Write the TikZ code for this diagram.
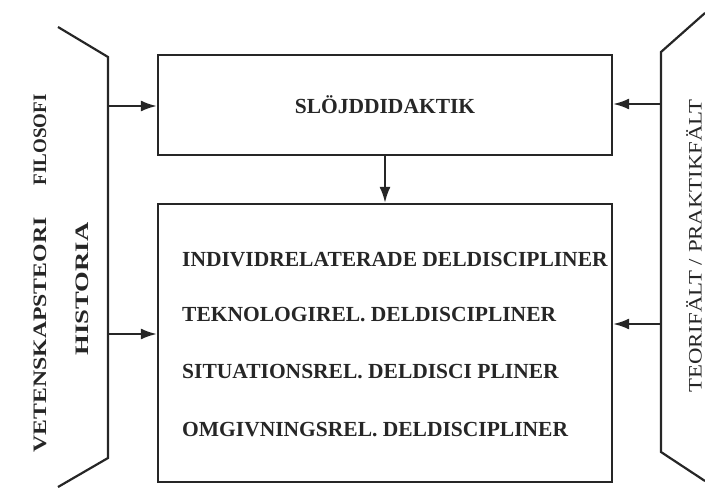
\documentclass[tikz,border=0pt]{standalone}
\usepackage{fontspec}
\setmainfont{Liberation Serif}
\usetikzlibrary{arrows.meta}

\tikzset{
  heavy/.style={line width=2.2pt, black!85},
  arr/.style={heavy, -{Latex[length=16pt,width=11pt]}},
  field/.style={draw, heavy, rectangle, minimum width=454pt},
  caps/.style={font=\bfseries\fontsize{21.5}{22}\selectfont, text=black!85, inner sep=0pt},
  sidecaps/.style={font=\bfseries\fontsize{19}{20}\selectfont, text=black!85, rotate=90, inner sep=0pt}
}

\begin{document}
\begin{tikzpicture}[x=1pt,y=-1pt]
\useasboundingbox (0,0) rectangle (705,491);

% boxes
\node[field, minimum height=100pt] (slojd) at (385,105) {};
\node[caps] (slojdtext) at (slojd.center) {SLÖJDDIDAKTIK};
\node[field, minimum height=278pt] (deld) at (385,343) {};

\foreach \y/\txt [count=\i] in {260/INDIVIDRELATERADE DELDISCIPLINER,
                                315/TEKNOLOGIREL. DELDISCIPLINER,
                                372/SITUATIONSREL. DELDISCI PLINER,
                                430/OMGIVNINGSREL. DELDISCIPLINER} {
  \node[caps, anchor=west] (d\i) at (182,\y) {\txt};
}

\draw[arr] (slojd.south) -- (deld.north);

% left bracket
\coordinate (ltop) at (108,57);
\coordinate (lbot) at (108,458);
\draw[heavy] (58,27) -- (ltop) -- (lbot) -- (58,487);
\coordinate (la) at (108,106);
\coordinate (lb) at (108,334);
\draw[arr] (la) -- (la -| slojd.west);
\draw[arr] (lb) -- (lb -| deld.west);

\node[sidecaps] (filosofi) at (40,140) {FILOSOFI};
\node[sidecaps] (vetenskap) at (40,335) {\scalebox{1.25}[1]{VETENSKAPSTEORI}};
\node[sidecaps] (historia) at (82,289) {\scalebox{1.4}[1]{HISTORIA}};

% right bracket
\coordinate (rtop) at (661,52);
\coordinate (rbot) at (661,452);
\draw[heavy] (705,13) -- (rtop) -- (rbot) -- (705,481);
\coordinate (ra) at (661,104);
\coordinate (rb) at (661,324);
\draw[arr] (ra) -- (ra -| slojd.east);
\draw[arr] (rb) -- (rb -| deld.east);

\node[font=\fontsize{19}{20}\selectfont, text=black!85, rotate=90, inner sep=0pt] (teori) at (694,246) {\scalebox{1.2}[1]{TEORIFÄLT / PRAKTIKFÄLT}};

\end{tikzpicture}
\end{document}
